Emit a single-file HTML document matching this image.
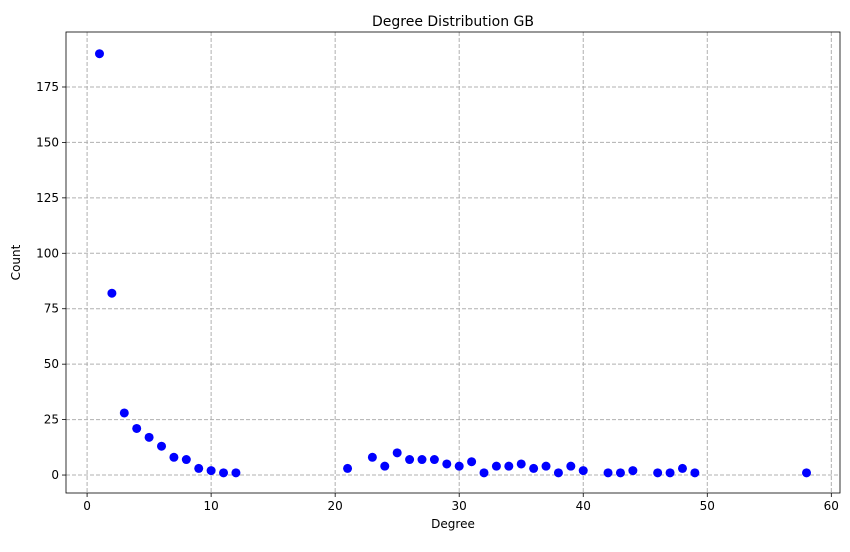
<!DOCTYPE html>
<html><head><meta charset="utf-8"><style>
body{margin:0;background:#fff;font-family:"Liberation Sans","DejaVu Sans",sans-serif;}
svg text{font-family:"DejaVu Sans","Liberation Sans",sans-serif;}
</style></head><body>
<svg id="chart" width="850" height="547"></svg>
<script>
const degrees=[1,2,3,4,5,6,7,8,9,10,11,12,21,23,24,25,26,27,28,29,30,31,32,33,34,35,36,37,38,39,40,42,43,44,46,47,48,49,58];
const counts=[190,82,28,21,17,13,8,7,3,2,1,1,3,8,4,10,7,7,7,5,4,6,1,4,4,5,3,4,1,4,2,1,1,2,1,1,3,1,1];
const xTicks=[0,10,20,30,40,50,60];
const yTicks=[0,25,50,75,100,125,150,175];
const L=66,R=840,T=32,B=493;
const xMin=-1.7,xMax=60.7,yMin=-8.1,yMax=199.8;
const sx=v=>L+(v-xMin)/(xMax-xMin)*(R-L);
const sy=v=>B-(v-yMin)/(yMax-yMin)*(B-T);
const svg=document.getElementById('chart');
const NS='http://www.w3.org/2000/svg';
function mk(t,a){const e=document.createElementNS(NS,t);for(const k in a)e.setAttribute(k,a[k]);svg.appendChild(e);return e;}
xTicks.forEach(v=>{const x=sx(v);
const g=mk('line',{x1:x,x2:x,y1:T,y2:B,stroke:'#b0b0b0','stroke-dasharray':'4,2','stroke-width':1});


mk('line',{x1:x,x2:x,y1:B,y2:B+4,stroke:'#000','stroke-width':0.8});
const t=mk('text',{x:x,y:B+17,'text-anchor':'middle','font-size':12});t.textContent=v;

});
yTicks.forEach(v=>{const y=sy(v);
const g=mk('line',{x1:L,x2:R,y1:y,y2:y,stroke:'#b0b0b0','stroke-dasharray':'4,2','stroke-width':1});


mk('line',{x1:L-4,x2:L,y1:y,y2:y,stroke:'#000','stroke-width':0.8});
const t=mk('text',{x:L-7,y:y+4,'text-anchor':'end','font-size':12});t.textContent=v;

});
const fr=mk('rect',{x:L,y:T,width:R-L,height:B-T,fill:'none',stroke:'#000','stroke-width':0.8});


degrees.forEach((d,i)=>{const c=mk('circle',{cx:sx(d),cy:sy(counts[i]),r:4.5,fill:'#0000ff'});

});
const ti=mk('text',{x:(L+R)/2,y:T-6,'text-anchor':'middle','font-size':14});ti.textContent='Degree Distribution GB';


const xl=mk('text',{x:(L+R)/2,y:B+35,'text-anchor':'middle','font-size':12});xl.textContent='Degree';


const yl=mk('text',{x:0,y:0,'text-anchor':'middle','font-size':12,transform:`translate(20,${(T+B)/2}) rotate(-90)`});yl.textContent='Count';


</script>
</body></html>
